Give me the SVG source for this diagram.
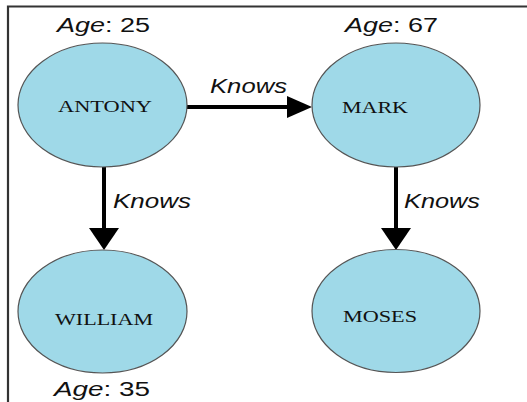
<svg xmlns="http://www.w3.org/2000/svg" width="527" height="402" viewBox="0 0 527 402">
  <style>
    .node { fill: #9fd9e8; stroke: #555; stroke-width: 1.2; }
    .name { font-family: "Liberation Serif", "Times New Roman", serif; font-size: 16px; fill: #111; }
    .attr { font-family: "Liberation Sans", Arial, sans-serif; font-size: 20px; fill: #111; }
    .rel { font-family: "Liberation Sans", Arial, sans-serif; font-size: 20px; font-style: italic; fill: #111; }
    .it { font-style: italic; }
    .edge { stroke: #000; stroke-width: 4; fill: none; }
    .head { fill: #000; }
  </style>
  <rect width="527" height="402" fill="#fff"/>
  <!-- frame: top and left rules only -->
  <path d="M8 402 V6.5 H527" fill="none" stroke="#333" stroke-width="2.2"/>

  <g id="connectors">
    <g id="e-antony-mark">
      <line class="edge" x1="187" y1="107" x2="289" y2="107"/>
      <polygon class="head" points="287,96 312,107 287,118"/>
      <text class="rel" x="210" y="93" textLength="77" lengthAdjust="spacingAndGlyphs">Knows</text>
    </g>
    <g id="e-antony-william">
      <line class="edge" x1="104" y1="167" x2="104" y2="230"/>
      <polygon class="head" points="89,228 119,228 104,250"/>
      <text class="rel" x="113" y="208" textLength="78" lengthAdjust="spacingAndGlyphs">Knows</text>
    </g>
    <g id="e-mark-moses">
      <line class="edge" x1="396" y1="167" x2="396" y2="230"/>
      <polygon class="head" points="381,228 411,228 396,250"/>
      <text class="rel" x="404" y="208" textLength="76" lengthAdjust="spacingAndGlyphs">Knows</text>
    </g>
  </g>

  <g id="antony">
    <ellipse class="node" cx="102.5" cy="105" rx="84.5" ry="62"/>
    <text class="name" x="58" y="112" textLength="94" lengthAdjust="spacingAndGlyphs">ANTONY</text>
    <text class="attr" x="57" y="32" textLength="93" lengthAdjust="spacingAndGlyphs"><tspan class="it">Age</tspan>: 25</text>
  </g>
  <g id="mark">
    <ellipse class="node" cx="396" cy="105" rx="84" ry="62"/>
    <text class="name" x="342" y="113" textLength="66" lengthAdjust="spacingAndGlyphs">MARK</text>
    <text class="attr" x="345" y="32" textLength="93" lengthAdjust="spacingAndGlyphs"><tspan class="it">Age</tspan>: 67</text>
  </g>
  <g id="william">
    <ellipse class="node" cx="102.5" cy="311.5" rx="84.5" ry="61.5"/>
    <text class="name" x="55" y="325" textLength="98" lengthAdjust="spacingAndGlyphs">WILLIAM</text>
    <text class="attr" x="54" y="396" textLength="96" lengthAdjust="spacingAndGlyphs"><tspan class="it">Age</tspan>: 35</text>
  </g>
  <g id="moses">
    <ellipse class="node" cx="396" cy="311" rx="84" ry="61.5"/>
    <text class="name" x="343" y="322" textLength="74" lengthAdjust="spacingAndGlyphs">MOSES</text>
  </g>
</svg>
